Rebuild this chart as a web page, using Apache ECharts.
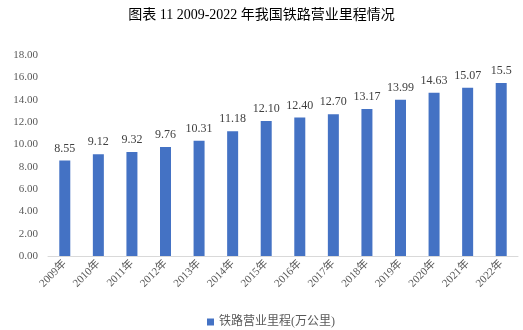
<!DOCTYPE html>
<html><head><meta charset="utf-8">
<script src="https://cdn.jsdelivr.net/npm/echarts@6/dist/echarts.min.js"></script>
<style>html,body{margin:0;padding:0;background:#fff}#c{width:523px;height:330px}</style>
</head><body><div id="c"></div>
<script>
const categories = ['2009年','2010年','2011年','2012年','2013年','2014年','2015年','2016年','2017年','2018年','2019年','2020年','2021年','2022年'];
const values = [8.55, 9.12, 9.32, 9.76, 10.31, 11.18, 12.10, 12.40, 12.70, 13.17, 13.99, 14.63, 15.07, 15.5];
const labels = ['8.55','9.12','9.32','9.76','10.31','11.18','12.10','12.40','12.70','13.17','13.99','14.63','15.07','15.5'];
const seriesName = '铁路营业里程(万公里)';
const titleText = '图表 11 2009-2022 年我国铁路营业里程情况';
const FONT = '"Liberation Serif","Times New Roman","Noto Sans CJK SC",serif';
const chart = echarts.init(document.getElementById('c'));
chart.setOption({
  animation: false,
  title: {text: titleText, left: 'center', top: 3, textStyle: {fontFamily: FONT, fontSize: 14, fontWeight: 'normal', color: '#000'}},
  grid: {left: 48, right: 5, top: 55, bottom: 74},
  legend: {top: 311, left: 202, itemWidth: 7, itemHeight: 7, icon: 'rect', itemGap: 5,
    textStyle: {fontFamily: FONT, fontSize: 12, color: '#595959'}},
  xAxis: {type: 'category', data: categories,
    axisLine: {lineStyle: {color: '#d9d9d9', width: 1}}, axisTick: {show: false},
    axisLabel: {rotate: 45, fontFamily: FONT, fontSize: 11, color: '#595959', interval: 0, margin: 6}},
  yAxis: {type: 'value', min: 0, max: 18, interval: 2,
    axisLine: {show: false}, axisTick: {show: false}, splitLine: {show: false},
    axisLabel: {formatter: v => v.toFixed(2), fontFamily: FONT, fontSize: 11, color: '#595959', margin: 10}},
  series: [{name: seriesName, type: 'bar', data: values, barWidth: 11,
    itemStyle: {color: '#4472C4'},
    label: {show: true, position: 'top', distance: 6, fontFamily: FONT, fontSize: 12, color: '#404040',
      formatter: p => labels[p.dataIndex]}}]
});
</script></body></html>
